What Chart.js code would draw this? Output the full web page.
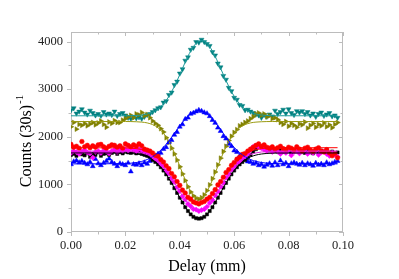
<!DOCTYPE html>
<html><head><meta charset="utf-8">
<script src="https://cdn.jsdelivr.net/npm/chart.js@4/dist/chart.umd.min.js"></script>
<style>html,body{margin:0;padding:0;background:#fff}canvas{display:block}</style>
</head><body>
<canvas id="c" width="399" height="279"></canvas>
<script>
// Delay positions (mm) of measured points
const delay = [0.000,0.001,0.002,0.003,0.004,0.005,0.006,0.007,0.008,0.009,
0.010,0.011,0.012,0.013,0.014,0.015,0.016,0.017,0.018,0.019,
0.020,0.021,0.022,0.023,0.024,0.025,0.026,0.027,0.028,0.029,
0.030,0.031,0.032,0.033,0.034,0.035,0.036,0.037,0.038,0.039,
0.040,0.041,0.042,0.043,0.044,0.045,0.046,0.047,0.048,0.049,
0.050,0.051,0.052,0.053,0.054,0.055,0.056,0.057,0.058,0.059,
0.060,0.061,0.062,0.063,0.064,0.065,0.066,0.067,0.068,0.069,
0.070,0.071,0.072,0.073,0.074,0.075,0.076,0.077,0.078,0.079,
0.080,0.081,0.082,0.083,0.084,0.085,0.086,0.087,0.088,0.089,
0.090,0.091,0.092,0.093,0.094,0.095,0.096,0.097,0.098];

const tealCounts = [2560,2600,2490,2530,2580,2510,2470,2550,2500,2450,2480,2440,2520,2470,2490,2460,2530,2440,2480,2500,2450,
2400,2380,2420,2390,2410,2380,2420,2460,2480,2520,
2560,2600,2620,2720,2750,2880,2930,3090,3160,3330,3420,3600,3670,3830,3870,3990,3980,4040,3990,3950,
3910,3780,3710,3540,3460,3280,3200,3030,2960,2820,2780,2670,2650,2560,2570,
2530,2500,2470,2450,2400,2460,2420,2470,2430,2550,2480,2520,2570,2490,2580,2500,2460,2540,2510,2540,2480,2520,2450,2490,2420,2480,2510,2440,2470,2500,2430,2450,2400];

const oliveCounts = [2210,2300,2160,2260,2240,2280,2230,2270,2300,2250,2290,2330,2260,2200,2310,2280,2340,2300,2300,2350,2380,2420,2450,2400,2480,2460,2510,2440,2470,2400,
2330,2280,2240,2170,2100,1980,1880,1760,1640,1510,1370,1220,1080,950,840,760,710,690,
720,780,870,990,1120,1260,1410,1550,1690,1800,1920,2010,2090,2150,2230,2260,2300,2330,
2380,2420,2480,2500,2450,2480,2420,2440,2380,2400,2360,2300,2260,2320,2220,2280,2240,2200,2270,2250,2310,2180,2240,2280,2200,2260,2230,2290,2210,2250,2190,2260,2300];

const blueCounts = [1420,1480,1500,1460,1490,1450,1420,1470,1380,1530,1440,1400,1450,1490,1540,1470,1430,1380,1440,1420,1400,1450,1270,1420,1410,1440,1400,1460,1430,1490,
1550,1560,1640,1660,1740,1780,1880,1930,2040,2100,2210,2260,2370,2400,2480,2500,2530,2560,
2540,2510,2490,2430,2350,2290,2190,2120,2010,1960,1850,1800,1710,1680,1600,1570,1520,
1480,1470,1430,1450,1400,1420,1370,1410,1440,1390,1460,1400,1500,1420,1450,1380,1440,1460,1430,1410,1450,1400,1440,1420,1390,1450,1410,1430,1400,1460,1420,1440,1470,1490];

const redCounts = [1840,1780,1800,1760,1900,1790,1820,1770,1810,1780,1830,1840,1790,1760,1800,1830,1820,1780,1810,1760,1850,1820,1790,1830,1800,1850,1810,1740,1720,1700,
1660,1610,1590,1520,1470,1390,1330,1230,1160,1060,980,880,820,730,690,630,610,590,
620,640,690,730,810,890,990,1060,1150,1250,1310,1400,1460,1530,1570,1630,1650,
1700,1740,1780,1820,1850,1800,1830,1780,1760,1790,1740,1770,1800,1750,1730,1780,1760,1720,1790,1740,1700,1760,1780,1720,1690,1740,1770,1700,1680,1730,1660,1600,1650,1560];

const magentaCounts = [1660,1700,1680,1640,1690,1720,1670,1650,1560,1680,1700,1660,1710,1690,1650,1700,1730,1680,1720,1700,1740,1710,1760,1730,1700,1740,1720,1690,1680,1650,
1590,1540,1500,1430,1380,1290,1230,1120,1050,940,860,750,680,590,540,480,470,440,
460,480,530,610,670,770,850,950,1030,1140,1210,1310,1370,1450,1490,1550,1580,
1650,1720,1790,1810,1780,1760,1730,1700,1750,1680,1720,1690,1640,1700,1660,1720,1610,1680,1700,1650,1690,1720,1640,1680,1660,1700,1620,1670,1690,1640,1600,1660,1620,1580];

const blackCounts = [1620,1640,1600,1660,1630,1610,1650,1580,1640,1620,1670,1600,1640,1650,1620,1660,1690,1640,1680,1650,1700,1670,1660,1690,1650,1680,1640,1620,1600,1570,
1510,1470,1420,1360,1290,1210,1120,1030,920,820,720,620,520,440,370,320,290,280,
290,320,370,440,520,620,720,820,930,1030,1120,1210,1290,1360,1420,1470,1510,
1560,1620,1690,1740,1790,1770,1760,1730,1710,1750,1700,1690,1720,1680,1740,1700,1660,1690,1730,1680,1700,1660,1720,1690,1650,1700,1670,1710,1680,1720,1660,1690,1640,1670];

// Fitted curves, read at these delay positions
const fitDelay = [0,0.020,0.022,0.024,0.026,0.028,0.030,0.032,0.034,0.036,0.038,0.040,0.042,0.044,0.046,0.048,
0.050,0.052,0.054,0.056,0.058,0.060,0.062,0.064,0.066,0.068,0.070,0.072,0.074,0.076,0.098];
const tealFit = [2440,2441,2443,2447,2457,2477,2516,2583,2691,2849,3058,3307,3567,3800,3962,4020,3962,3800,3567,3307,3058,2849,2691,2583,2516,2477,2457,2447,2443,2441,2440];
const oliveFit = [2320,2320,2319,2315,2308,2291,2255,2188,2074,1899,1662,1382,1094,854,718,718,854,1094,1382,1662,1899,2074,2188,2255,2291,2308,2315,2319,2320,2320,2320];
const blueFit = [1430,1437,1445,1459,1483,1522,1581,1666,1777,1915,2070,2227,2372,2483,2542,2542,2483,2372,2227,2070,1915,1777,1666,1581,1522,1483,1459,1445,1437,1433,1430];
const redFit = [1770,1766,1761,1751,1733,1700,1647,1569,1458,1315,1149,972,807,680,609,609,680,807,972,1149,1315,1458,1569,1647,1700,1733,1751,1761,1766,1768,1770];
const magentaFit = [1700,1696,1690,1680,1660,1625,1569,1485,1366,1214,1036,848,671,535,460,460,535,671,848,1036,1214,1366,1485,1569,1625,1660,1680,1690,1696,1698,1700];
const blackFit = [1660,1655,1650,1638,1616,1577,1515,1423,1292,1123,927,719,524,374,291,291,374,524,719,927,1123,1292,1423,1515,1577,1616,1638,1650,1655,1658,1660];

// Axis ticks (major ticks carry a label, minor ticks an empty one)
const xTicks = [0,0.01,0.02,0.03,0.04,0.05,0.06,0.07,0.08,0.09,0.10];
const xTickLabels = ['0.00','','0.02','','0.04','','0.06','','0.08','','0.10'];
const yTicks = [0,500,1000,1500,2000,2500,3000,3500,4000];
const yTickLabels = ['0','','1000','','2000','','3000','','4000'];

const SERIF = "'Liberation Serif','Times New Roman',serif";
const pts = v => delay.map((d,i)=>({x:d,y:v[i]}));
const fit = v => fitDelay.map((d,i)=>({x:d,y:v[i]}));
function fitSet(label, vals, color){
  return {label, data:fit(vals), showLine:true, borderColor:color, borderWidth:1, pointRadius:0, cubicInterpolationMode:'monotone', fill:false};
}
function ptSet(label, vals, color, style, rot, r){
  return {label, data:pts(vals), showLine:false, pointStyle:style, pointRotation:rot, pointRadius:r,
    pointBackgroundColor:color, pointBorderColor:color, pointBorderWidth:0.5};
}

const framePlugin = {
  id:'frame',
  beforeDatasetsDraw(chart){
    const {ctx, chartArea:a, scales:{x,y}} = chart;
    ctx.save();
    ctx.strokeStyle = '#bcbcbc'; ctx.lineWidth = 1;
    ctx.strokeRect(a.left+0.5, a.top+0.5, a.right-a.left-1, a.bottom-a.top-1);
    ctx.beginPath();
    x.ticks.forEach((t,i)=>{
      const px = Math.round(x.getPixelForValue(t.value))+0.5;
      const L = xTickLabels[i] ? 4 : 2.5;
      ctx.moveTo(px,a.bottom); ctx.lineTo(px,a.bottom+L);
      ctx.moveTo(px,a.top); ctx.lineTo(px,a.top+L);
    });
    y.ticks.forEach((t,i)=>{
      const py = Math.round(y.getPixelForValue(t.value))+0.5;
      const L = yTickLabels[i] ? 4 : 2.5;
      ctx.moveTo(a.left,py); ctx.lineTo(a.left-L,py);
      ctx.moveTo(a.right,py); ctx.lineTo(a.right-L,py);
    });
    ctx.stroke();
    ctx.restore();
  },
  afterDraw(chart){
    const {ctx} = chart;
    ctx.save();
    ctx.translate(31, 141);
    ctx.rotate(-Math.PI/2);
    ctx.fillStyle = '#000';
    ctx.textBaseline = 'alphabetic';
    ctx.textAlign = 'left';
    const main = 'Counts (30s)', sup = '-1';
    ctx.font = '16px '+SERIF;
    const w = ctx.measureText(main).width;
    ctx.font = '11px '+SERIF;
    const ws = ctx.measureText(sup).width;
    const start = -(w+ws+1)/2;
    ctx.font = '16px '+SERIF;
    ctx.fillText(main, start, 0);
    ctx.font = '11px '+SERIF;
    ctx.fillText(sup, start+w+1, -8.5);
    ctx.restore();
  }
};

new Chart(document.getElementById('c'), {
  type:'scatter',
  data:{datasets:[
    fitSet('Fit black', blackFit, '#000000'),
    fitSet('Fit red', redFit, '#ff0000'),
    fitSet('Fit magenta', magentaFit, '#e020e0'),
    fitSet('Fit blue', blueFit, '#0000ff'),
    fitSet('Fit olive', oliveFit, '#9a9a10'),
    fitSet('Fit teal', tealFit, '#1a9a9a'),
    ptSet('Red', redCounts, '#ff0000', 'circle', 0, 2.3),
    ptSet('Magenta', magentaCounts, '#ff00ff', 'rectRot', 0, 2.6),
    ptSet('Black', blackCounts, '#000000', 'rect', 0, 2.2),
    ptSet('Blue', blueCounts, '#0000ff', 'triangle', 0, 2.8),
    ptSet('Olive', oliveCounts, '#808000', 'triangle', 90, 2.8),
    ptSet('Teal', tealCounts, '#008080', 'triangle', 180, 2.8)
  ]},
  options:{
    responsive:false, animation:false,
    layout:{padding:{left:0,right:56,top:32,bottom:0}},
    plugins:{legend:{display:false}, tooltip:{enabled:false}},
    scales:{
      x:{type:'linear', min:0, max:0.1,
        grid:{display:false, drawTicks:false}, border:{display:false},
        afterBuildTicks:(s)=>{ s.ticks = xTicks.map(v=>({value:v})); },
        ticks:{autoSkip:false, maxRotation:0, padding:6,
          color:'#222', font:{family:SERIF, size:12.5},
          callback:(v,i)=> xTickLabels[i]},
        title:{display:true, text:'Delay (mm)', color:'#000', font:{family:SERIF, size:16}, padding:{top:0,bottom:3}},
        afterFit:(s)=>{s.height=47;}
      },
      y:{type:'linear', min:0, max:4200,
        grid:{display:false, drawTicks:false}, border:{display:false},
        afterBuildTicks:(s)=>{ s.ticks = yTicks.map(v=>({value:v})); },
        ticks:{autoSkip:false, padding:8,
          color:'#222', font:{family:SERIF, size:12.5},
          callback:(v,i)=> yTickLabels[i]},
        afterFit:(s)=>{s.width=71;}
      }
    }
  },
  plugins:[framePlugin]
});
</script>
</body></html>
